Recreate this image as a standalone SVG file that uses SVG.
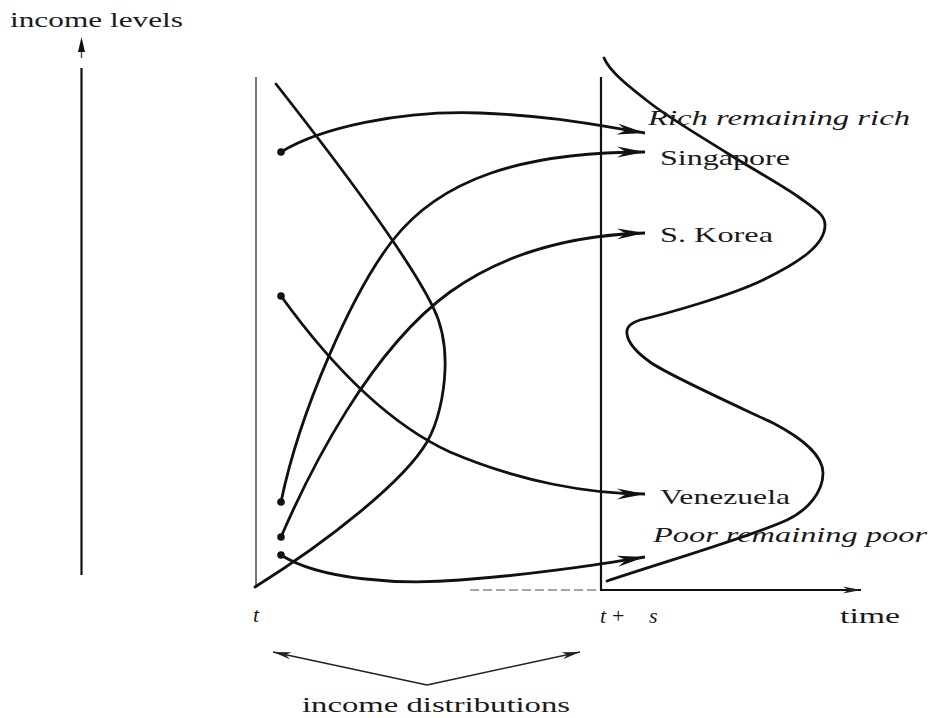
<svg xmlns="http://www.w3.org/2000/svg" width="934" height="718" viewBox="0 0 934 718">
<defs>
<style>
.ln{fill:none;stroke:#111;stroke-width:2.8;stroke-linecap:round;stroke-linejoin:round}
.ar{fill:none;stroke:#111;stroke-width:2.8;stroke-linecap:butt;marker-end:url(#ah)}
.ax{fill:none;stroke:#111;stroke-width:2.2}
.thin{fill:none;stroke:#222;stroke-width:1.5;marker-end:url(#sh)}
.t{font-family:"Liberation Serif","Times New Roman",serif;font-size:22px;fill:#1a1a1a}
.it{font-style:italic}
.dot{fill:#111}
</style>
<marker id="ah" markerUnits="userSpaceOnUse" markerWidth="28" markerHeight="12" viewBox="0 0 28 12" refX="28" refY="6" orient="auto">
<path d="M0,0.5 L28,6 L0,11.5 L9,6 z" fill="#111"/>
</marker>
<marker id="sh" markerUnits="userSpaceOnUse" markerWidth="18" markerHeight="8" viewBox="0 0 18 8" refX="18" refY="4" orient="auto">
<path d="M0,0.5 L18,4 L0,7.5 L5,4 z" fill="#222"/>
</marker>
</defs>
<rect width="934" height="718" fill="#fff"/>

<g id="income-axis">
<line class="ax" x1="81.5" y1="68" x2="81.5" y2="575"/>
<path d="M81.5,37 L85,52 L78,52 z" fill="#111"/>
<line x1="81.5" y1="52" x2="81.5" y2="58" stroke="#555" stroke-width="1.5"/>
<text class="t" x="10" y="27" textLength="173" lengthAdjust="spacingAndGlyphs">income levels</text>
</g>

<g id="time-t">
<line x1="256" y1="77" x2="256" y2="587" stroke="#555" stroke-width="1.6"/>
<text class="t it" x="253" y="622">t</text>
</g>

<g id="time-ts">
<line class="ax" x1="601" y1="77" x2="601" y2="590" stroke-width="2.5"/>
<text class="t" y="623"><tspan class="it" x="600">t</tspan><tspan x="612">+</tspan><tspan class="it" x="649">s</tspan></text>
</g>

<g id="time-axis">
<line x1="470" y1="590" x2="600" y2="590" stroke="#888" stroke-width="1.5" stroke-dasharray="9,4"/>
<line x1="600" y1="590" x2="861" y2="590" stroke="#111" stroke-width="1.8" marker-end="url(#sh)"/>
<text class="t" x="840" y="623" textLength="60" lengthAdjust="spacingAndGlyphs">time</text>
</g>

<g id="dist-left">
<path class="ln" d="M276,84 C320,140 405,250 433,307 C441,323 446,345 445,370 C444,395 438,423 427,442 C405,480 330,540 255,587"/>
</g>

<g id="dist-right">
<path class="ln" d="M604,58 C610,72 629.5,87.2 650,103 C670.5,118.8 702,137.2 727,153 C752,168.8 783.7,186 800,198 C816.3,210 825,215 825,225 C825,245 800,262 763,280 C730,296 665,314 640,320 C630,323 626,328 627,334 C628,342 636,352 650,362 C668,375 735,405 773,423 C800,437 823,455 823,473 C823,492 808,510 787,520 C750,537 660,563 607,581"/>
</g>

<g id="connectors">
<path class="ar" d="M281,152 C320,128 400,110 480,113 C560,116 610,128 645,133"/>
<path class="ar" d="M281,502 C300,410 353,291 393,240 C440,180 520,152 645,152"/>
<path class="ar" d="M281,537 C310,470 370,350 450,292 C510,249 580,235 645,233"/>
<path class="ar" d="M281,296 C320,350 380,420 450,452 C520,482 590,494 645,494"/>
<path class="ar" d="M281,555 C320,580 400,585 460,580 C540,574 600,564 645,557"/>
<path class="thin" d="M427,685 L273,652"/>
<path class="thin" d="M427,685 L580,652"/>
</g>

<g id="start-dots">
<circle class="dot" cx="281" cy="152" r="3.8"/>
<circle class="dot" cx="281" cy="296" r="3.8"/>
<circle class="dot" cx="281" cy="502" r="3.8"/>
<circle class="dot" cx="281" cy="537" r="3.8"/>
<circle class="dot" cx="281" cy="555" r="3.8"/>
</g>

<g id="label-rich"><text class="t it" x="648" y="125" textLength="262" lengthAdjust="spacingAndGlyphs">Rich remaining rich</text></g>
<g id="label-singapore"><text class="t" x="660" y="165" textLength="130" lengthAdjust="spacingAndGlyphs">Singapore</text></g>
<g id="label-korea"><text class="t" x="660" y="242" textLength="113" lengthAdjust="spacingAndGlyphs">S. Korea</text></g>
<g id="label-venezuela"><text class="t" x="660" y="504" textLength="130" lengthAdjust="spacingAndGlyphs">Venezuela</text></g>
<g id="label-poor"><text class="t it" x="653" y="542" textLength="274" lengthAdjust="spacingAndGlyphs">Poor remaining poor</text></g>
<g id="label-distributions"><text class="t" x="302" y="712" textLength="268" lengthAdjust="spacingAndGlyphs">income distributions</text></g>
</svg>
